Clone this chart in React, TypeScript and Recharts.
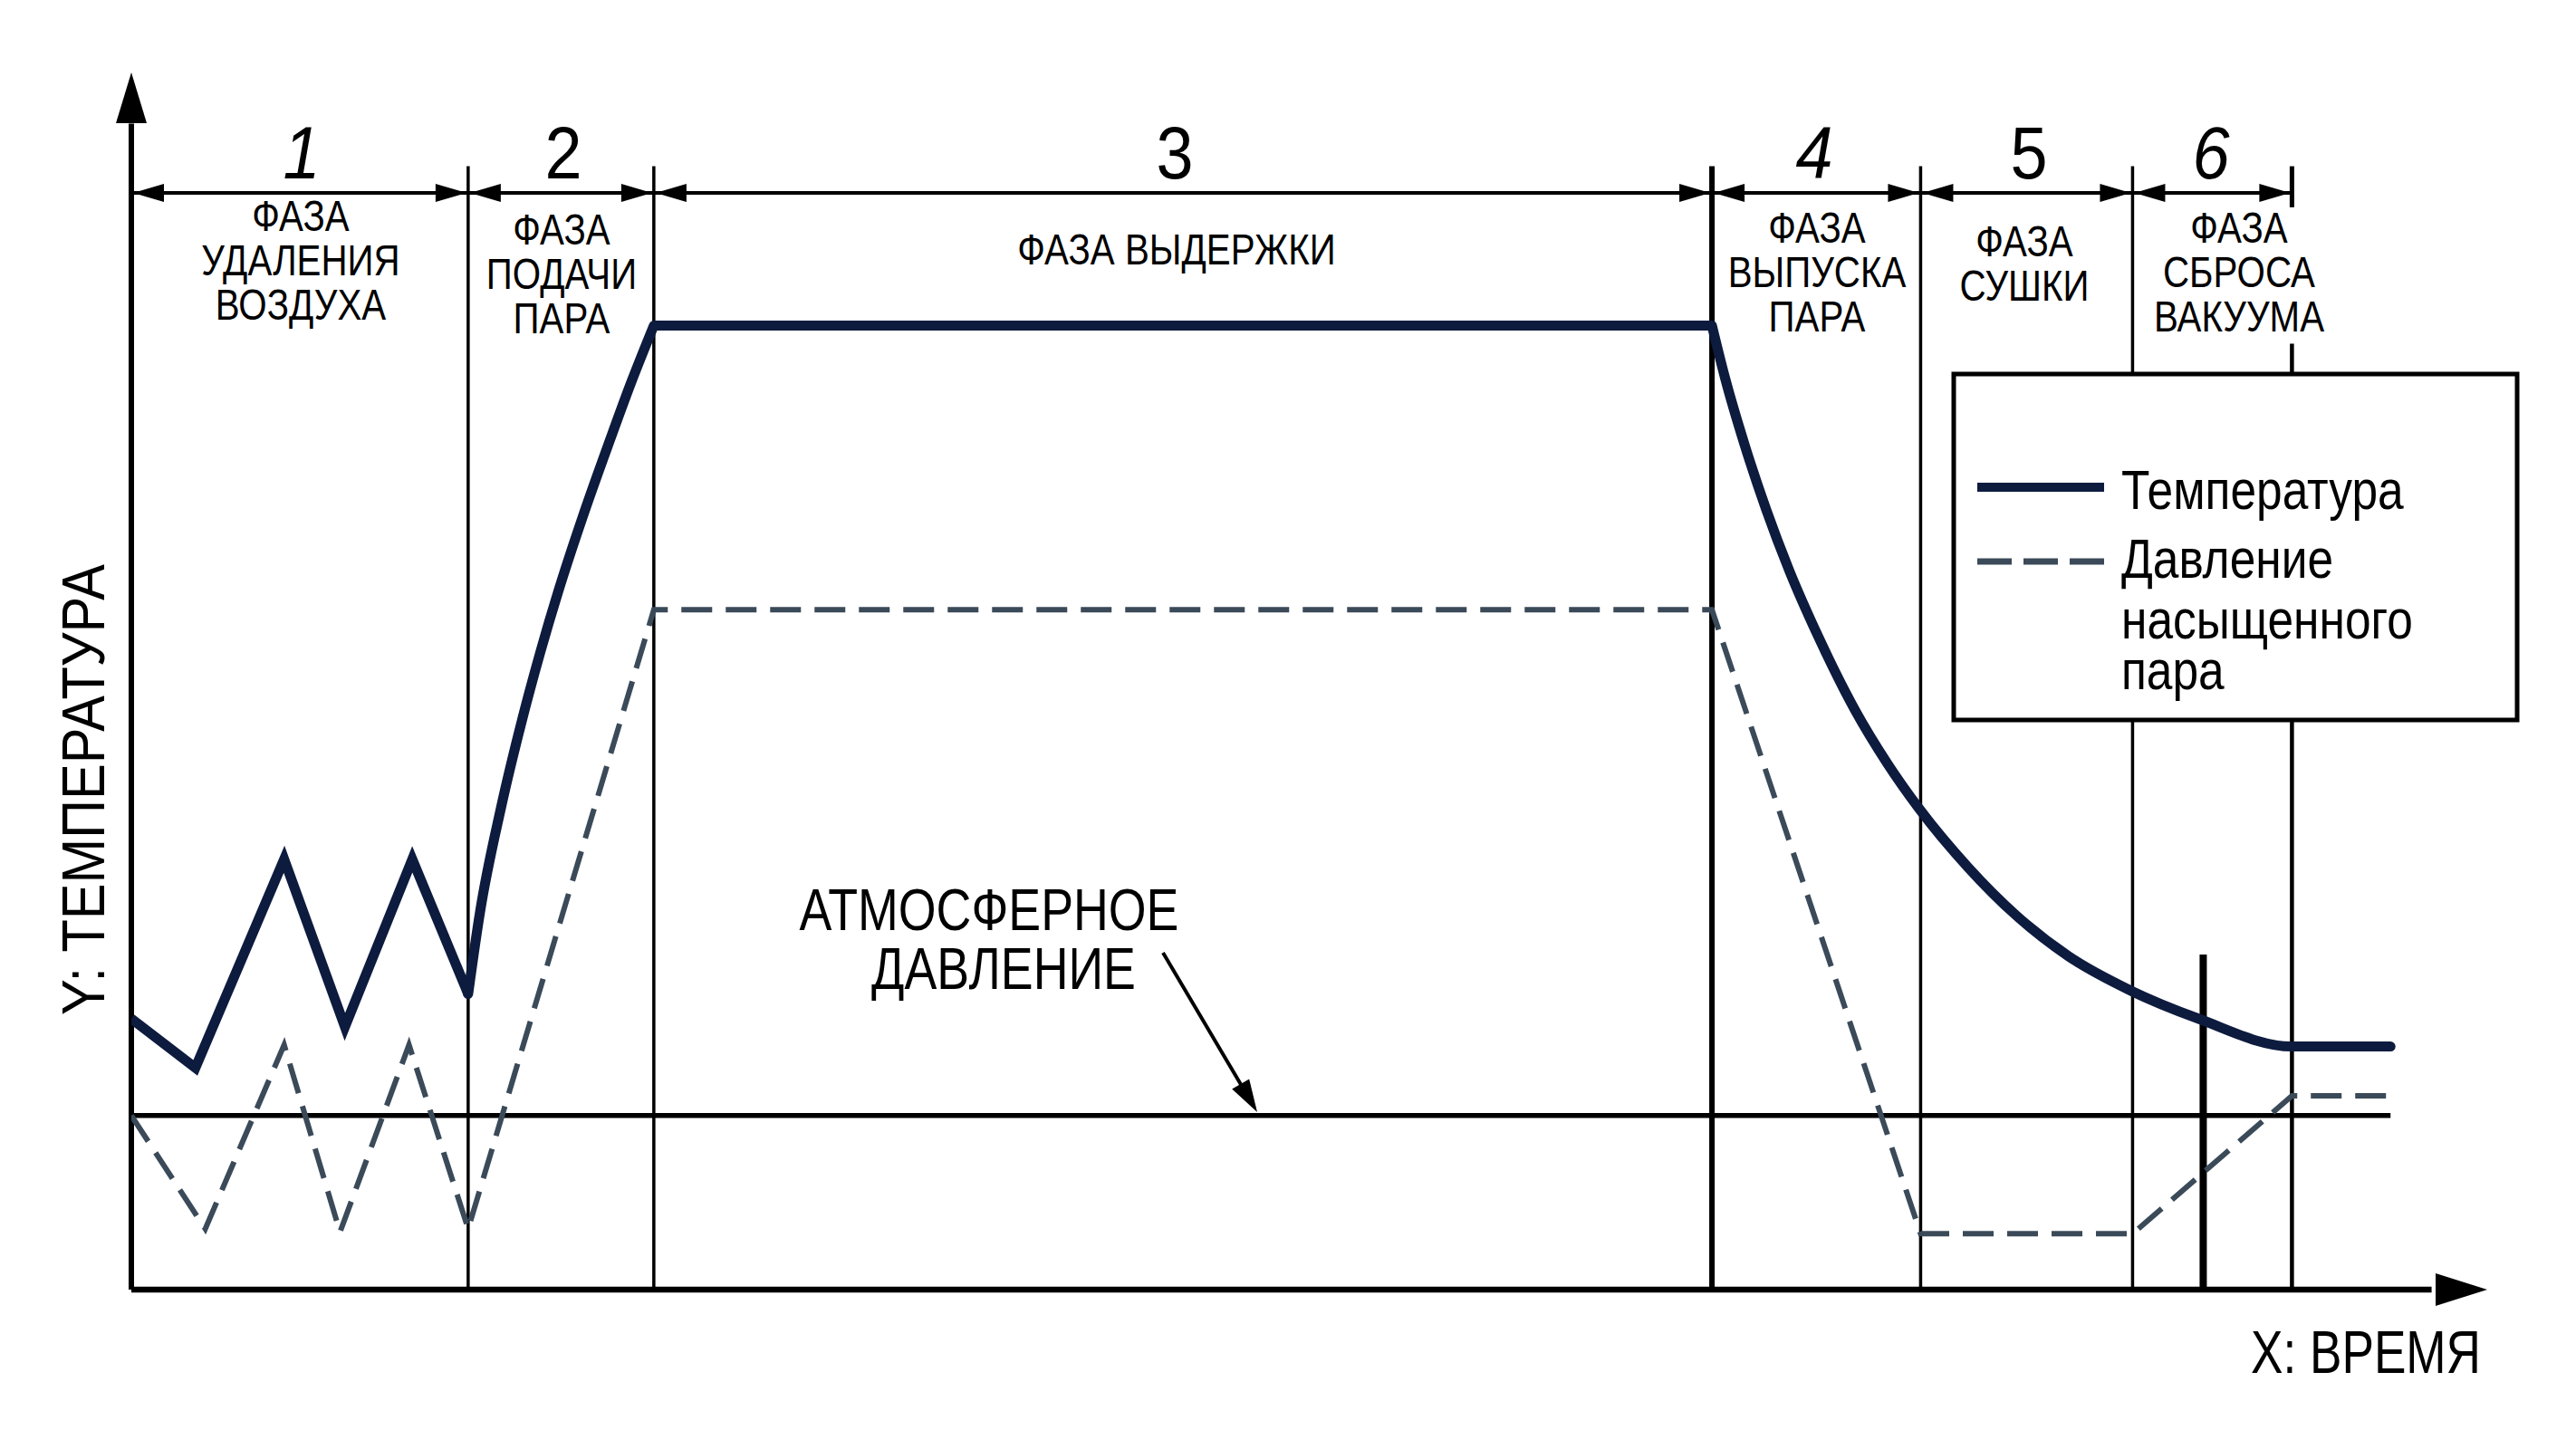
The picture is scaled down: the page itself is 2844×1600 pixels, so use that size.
import React from 'react';
import { LineChart, Line, XAxis, YAxis, ReferenceLine } from 'recharts';

// ---------- data (time units / temperature-pressure units) ----------
// Temperature: air-removal pulses (straight segments)
const tempAirRemoval = [
  { t: 0, v: 16.5 }, { t: 3.9, v: 13.5 }, { t: 9.3, v: 26.2 }, { t: 13, v: 16 }, { t: 17.1, v: 26.2 }, { t: 20.5, v: 18 },
];
// Temperature: steam admission (smooth rise)
const tempHeatUp = [
  { t: 20.5, v: 18 }, { t: 21.22, v: 22.98 }, { t: 22.51, v: 29.39 }, { t: 23.8, v: 34.76 }, { t: 24.9, v: 38.84 },
  { t: 26, v: 42.56 }, { t: 27.47, v: 47.05 }, { t: 29.12, v: 51.7 }, { t: 30.41, v: 55.21 }, { t: 31.8, v: 58.7 },
];
// Temperature: holding
const tempHold = [{ t: 31.8, v: 58.7 }, { t: 96.2, v: 58.7 }];
// Temperature: steam exhaust / drying / vacuum release (smooth decay), then steady
const tempCooling = [
  { t: 96.2, v: 58.7 }, { t: 97, v: 55.5 }, { t: 98.2, v: 51.4 }, { t: 99.5, v: 47.5 }, { t: 100.9, v: 43.8 },
  { t: 102.7, v: 39.7 }, { t: 104.9, v: 35.3 }, { t: 106.9, v: 32 }, { t: 108.8, v: 29.3 }, { t: 111.8, v: 25.7 },
  { t: 114.7, v: 22.8 }, { t: 117.9, v: 20.3 }, { t: 121.7, v: 18.2 }, { t: 125.8, v: 16.5 }, { t: 131.5, v: 14.8 },
  { t: 137.5, v: 14.8 },
];

// Saturated steam pressure
const pressure = [
  { t: 0, v: 10.6 }, { t: 4.5, v: 3.7 }, { t: 9.3, v: 14.9 }, { t: 12.7, v: 3.5 }, { t: 16.9, v: 14.9 }, { t: 20.5, v: 3.7 },
  { t: 31.8, v: 41.4 }, { t: 96.2, v: 41.4 }, { t: 108.9, v: 3.4 }, { t: 121.8, v: 3.4 }, { t: 131.5, v: 11.8 }, { t: 137.5, v: 11.8 },
];

const ATMOSPHERIC = 10.6;
const DATA_END = 137.5;
const phaseBounds = [20.5, 31.8, 96.2, 108.9, 121.8, 131.5];
const vacuumMarker = { t: 126.1, top: 20.4 };
const phaseNumbers = ['1', '2', '3', '4', '5', '6'];
const phaseTitles = [
  ['ФАЗА', 'УДАЛЕНИЯ', 'ВОЗДУХА'],
  ['ФАЗА', 'ПОДАЧИ', 'ПАРА'],
  ['ФАЗА ВЫДЕРЖКИ'],
  ['ФАЗА', 'ВЫПУСКА', 'ПАРА'],
  ['ФАЗА', 'СУШКИ'],
  ['ФАЗА', 'СБРОСА', 'ВАКУУМА'],
];
const atmLabel = ['АТМОСФЕРНОЕ', 'ДАВЛЕНИЕ'];
const legendTemp = 'Температура';
const legendPress = ['Давление', 'насыщенного', 'пара'];
const yLabel = 'Y: ТЕМПЕРАТУРА';
const xLabel = 'X: ВРЕМЯ';

// ---------- layout ----------
const W = 2844;
const H = 1600;
const M = { top: 82, right: 105, bottom: 176, left: 145 };
const X_MAX = 143;
const Y_MAX = 74;
const sx = (t: number) => M.left + (t * (W - M.left - M.right)) / X_MAX;
const sy = (v: number) => H - M.bottom - (v * (H - M.top - M.bottom)) / Y_MAX;

const FONT = "'Liberation Sans', Arial, sans-serif";
const TEMP_COLOR = '#0d1b3e';
const PRESS_COLOR = '#3b4a59';
const LINE_TOP = 68.4;

type TP = { x: number; y: number; size: number; text: string; scale?: number; anchor?: 'start' | 'middle' | 'end'; italic?: boolean };
const NText = ({ x, y, size, text, scale = 0.83, anchor = 'middle', italic = false }: TP) => (
  <text
    transform={`translate(${x} ${y}) scale(${scale} 1)`}
    fontSize={size}
    fontFamily={FONT}
    textAnchor={anchor}
    fontStyle={italic ? 'italic' : 'normal'}
    fill="#000"
  >
    {text}
  </text>
);

const Arrowhead = ({ tx, ty, dx, dy, len, half }: { tx: number; ty: number; dx: number; dy: number; len: number; half: number }) => {
  const l = Math.hypot(dx, dy);
  const ux = dx / l;
  const uy = dy / l;
  const bx = tx - ux * len;
  const by = ty - uy * len;
  const nx = -uy * half;
  const ny = ux * half;
  return <polygon points={`${tx},${ty} ${bx + nx},${by + ny} ${bx - nx},${by - ny}`} fill="#000" />;
};

const Overlay = () => {
  const dimY = 213;
  const bounds = [0, ...phaseBounds].map(sx);
  const numX = [333, 622, 1297, 2003, 2240, 2441];
  const titleX = [332, 620, 1299, 2006, 2235, 2472];
  const titleY = [255, 270, 292, 268, 283, 268];
  const italicNums = [true, false, false, true, false, true];
  const aStart = { x: 1284, y: 1052 };
  const aTip = { x: 1388, y: 1228 };
  const aLen = Math.hypot(aTip.x - aStart.x, aTip.y - aStart.y);
  const aBase = {
    x: aTip.x - ((aTip.x - aStart.x) / aLen) * 34,
    y: aTip.y - ((aTip.y - aStart.y) / aLen) * 34,
  };
  return (
    <svg width={W} height={H} style={{ position: 'absolute', left: 0, top: 0, pointerEvents: 'none' }}>
      {/* axis arrowheads */}
      <polygon points={`${sx(0)},80 ${sx(0) - 17},136 ${sx(0) + 17},136`} fill="#000" />
      <polygon points={`2746,${sy(0)} 2689,${sy(0) - 18} 2689,${sy(0) + 18}`} fill="#000" />

      {/* dimension line with arrows */}
      <line x1={bounds[0]} y1={dimY} x2={bounds[bounds.length - 1]} y2={dimY} stroke="#000" strokeWidth={4} />
      {bounds.slice(1).map((b, i) => {
        const a = bounds[i];
        return (
          <g key={`dim${i}`}>
            <polygon points={`${a + 2},${dimY} ${a + 36},${dimY - 10} ${a + 36},${dimY + 10}`} fill="#000" />
            <polygon points={`${b - 2},${dimY} ${b - 36},${dimY - 10} ${b - 36},${dimY + 10}`} fill="#000" />
          </g>
        );
      })}

      {/* phase numbers */}
      {phaseNumbers.map((n, i) => (
        <NText key={`n${i}`} x={numX[i]} y={197} size={82} text={n} scale={0.9} italic={italicNums[i]} />
      ))}

      {/* phase titles */}
      {phaseTitles.map((lines, i) =>
        lines.map((s, j) => <NText key={`p${i}-${j}`} x={titleX[i]} y={titleY[i] + j * 49} size={48} text={s} scale={0.84} />)
      )}

      {/* atmospheric pressure annotation */}
      <NText x={1092} y={1027} size={64} text={atmLabel[0]} scale={0.84} />
      <NText x={1108} y={1092} size={64} text={atmLabel[1]} scale={0.84} />
      <line x1={aStart.x} y1={aStart.y} x2={aBase.x} y2={aBase.y} stroke="#000" strokeWidth={4} />
      <Arrowhead tx={aTip.x} ty={aTip.y} dx={aTip.x - aStart.x} dy={aTip.y - aStart.y} len={36} half={11} />

      {/* axis labels */}
      <text
        transform="translate(115 872) rotate(-90)"
        fontSize={66}
        fontFamily={FONT}
        textAnchor="middle"
        textLength={498}
        lengthAdjust="spacingAndGlyphs"
        fill="#000"
      >
        {yLabel}
      </text>
      <text x={2739} y={1516} fontSize={66} fontFamily={FONT} textAnchor="end" textLength={254} lengthAdjust="spacingAndGlyphs" fill="#000">
        {xLabel}
      </text>

      {/* legend */}
      <rect x={2157} y={413} width={622} height={382} fill="#fff" stroke="#000" strokeWidth={5} />
      <line x1={2183} y1={538} x2={2323} y2={538} stroke={TEMP_COLOR} strokeWidth={10} />
      <line x1={2183} y1={620} x2={2323} y2={620} stroke={PRESS_COLOR} strokeWidth={7} strokeDasharray="38 13" />
      <NText x={2342} y={562} size={62} text={legendTemp} scale={0.83} anchor="start" />
      {legendPress.map((s, i) => (
        <NText key={`lp${i}`} x={2342} y={[638, 705, 761][i]} size={62} text={s} scale={0.83} anchor="start" />
      ))}
    </svg>
  );
};

export default function App() {
  return (
    <div style={{ position: 'absolute', left: 0, top: 0, width: W, height: H, background: '#fff' }}>
      <div style={{ position: 'absolute', left: 0, top: 0 }}>
        <LineChart width={W} height={H} margin={M}>
          <XAxis type="number" dataKey="t" domain={[0, X_MAX]} hide allowDataOverflow />
          <YAxis type="number" domain={[0, Y_MAX]} hide allowDataOverflow />

          {/* axes */}
          <ReferenceLine segment={[{ x: 0, y: 0 }, { x: 140, y: 0 }]} stroke="#000" strokeWidth={6.5} />
          <ReferenceLine segment={[{ x: 0, y: 0 }, { x: 0, y: 71 }]} stroke="#000" strokeWidth={6} />

          {/* atmospheric pressure */}
          <ReferenceLine segment={[{ x: 0, y: ATMOSPHERIC }, { x: DATA_END, y: ATMOSPHERIC }]} stroke="#000" strokeWidth={5.5} />

          {/* phase boundaries */}
          <ReferenceLine segment={[{ x: phaseBounds[0], y: 0 }, { x: phaseBounds[0], y: LINE_TOP }]} stroke="#000" strokeWidth={3.5} />
          <ReferenceLine segment={[{ x: phaseBounds[1], y: 0 }, { x: phaseBounds[1], y: LINE_TOP }]} stroke="#000" strokeWidth={3.5} />
          <ReferenceLine segment={[{ x: phaseBounds[2], y: 0 }, { x: phaseBounds[2], y: LINE_TOP }]} stroke="#000" strokeWidth={6} />
          <ReferenceLine segment={[{ x: phaseBounds[3], y: 0 }, { x: phaseBounds[3], y: LINE_TOP }]} stroke="#000" strokeWidth={3.5} />
          <ReferenceLine segment={[{ x: phaseBounds[4], y: 0 }, { x: phaseBounds[4], y: LINE_TOP }]} stroke="#000" strokeWidth={3.5} />
          <ReferenceLine segment={[{ x: phaseBounds[5], y: 65.9 }, { x: phaseBounds[5], y: LINE_TOP }]} stroke="#000" strokeWidth={5} />
          <ReferenceLine segment={[{ x: phaseBounds[5], y: 0 }, { x: phaseBounds[5], y: 57.6 }]} stroke="#000" strokeWidth={4.5} />
          <ReferenceLine segment={[{ x: vacuumMarker.t, y: 0 }, { x: vacuumMarker.t, y: vacuumMarker.top }]} stroke="#000" strokeWidth={8} />

          <Line
            data={pressure}
            dataKey="v"
            type="linear"
            stroke={PRESS_COLOR}
            strokeWidth={6}
            strokeDasharray="34 15"
            dot={false}
            activeDot={false}
            isAnimationActive={false}
          />
          <Line
            data={tempAirRemoval}
            dataKey="v"
            type="linear"
            stroke={TEMP_COLOR}
            strokeWidth={11}
            dot={false}
            activeDot={false}
            isAnimationActive={false}
          />
          <Line
            data={tempHold}
            dataKey="v"
            type="linear"
            stroke={TEMP_COLOR}
            strokeWidth={11}
            dot={false}
            activeDot={false}
            isAnimationActive={false}
          />
          <Line
            data={tempCooling}
            dataKey="v"
            type="monotoneX"
            stroke={TEMP_COLOR}
            strokeWidth={11}
            strokeLinecap="round"
            dot={false}
            activeDot={false}
            isAnimationActive={false}
          />
          <Line
            data={tempHeatUp}
            dataKey="v"
            type="monotoneX"
            stroke={TEMP_COLOR}
            strokeWidth={11}
            strokeLinecap="round"
            dot={false}
            activeDot={false}
            isAnimationActive={false}
          />
        </LineChart>
      </div>
      <Overlay />
    </div>
  );
}
